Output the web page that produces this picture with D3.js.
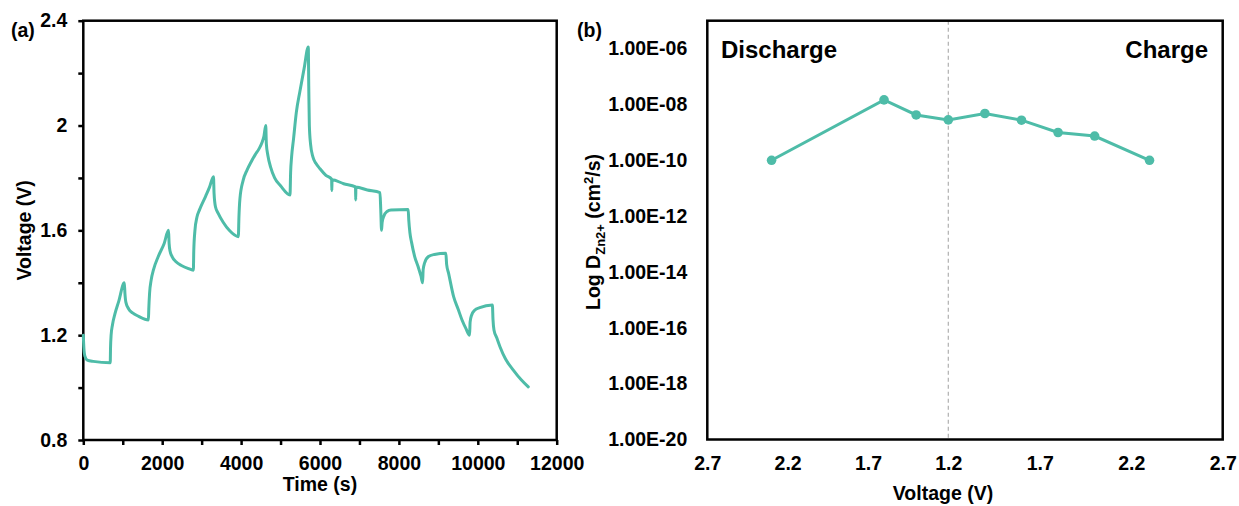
<!DOCTYPE html>
<html lang="en">
<head>
<meta charset="UTF-8">
<title>GITT and Zn2+ diffusion</title>
<script src="https://d3js.org/d3.v7.min.js"></script>
<style>
  body { margin: 0; background: #ffffff; }
  svg text { font-family: "Liberation Sans", Arial, sans-serif; font-weight: bold; fill: #000; }
  .tick text { font-size: 19.5px; }
  .axis-title { font-size: 19.5px; }
</style>
</head>
<body>
<div id="chart"></div>
<script>
// (a) GITT curve
const timeS = [0, 15, 40, 100, 250, 683, 690, 705, 740, 800, 900, 1040,
  1055, 1080, 1150, 1250, 1400, 1650,
  1660, 1680, 1720, 1780, 1900, 2050, 2160,
  2175, 2200, 2250, 2350, 2500, 2650, 2790,
  2800, 2830, 2880, 2950, 3100, 3200, 3300,
  3315, 3350, 3420, 3550, 3700, 3930,
  3945, 3970, 4050, 4150, 4250, 4355, 4450, 4530, 4580, 4625,
  4640, 4680, 4750, 4850, 5000, 5240,
  5255, 5280, 5330, 5400, 5490, 5600, 5703,
  5715, 5730, 5760, 5820, 5900, 6000, 6150, 6295, 6300, 6305,
  6600, 6900, 6905, 6910, 7200, 7520,
  7540, 7560, 7575, 7620, 7700, 7800, 8235,
  8250, 8280, 8320, 8400, 8490, 8560, 8600,
  8615, 8650, 8750, 8900, 9190,
  9210, 9260, 9387, 9500, 9600, 9700, 9792,
  9805, 9840, 9920, 10050, 10370,
  10385, 10410, 10480, 10562, 10700, 10900, 11100, 11280];
const voltageV = [1.20, 1.15, 1.12, 1.105, 1.10, 1.095, 1.15, 1.20, 1.24, 1.28, 1.33, 1.40,
  1.36, 1.325, 1.30, 1.285, 1.272, 1.258,
  1.30, 1.36, 1.41, 1.45, 1.50, 1.55, 1.60,
  1.55, 1.52, 1.50, 1.48, 1.465, 1.455, 1.448,
  1.52, 1.60, 1.65, 1.68, 1.73, 1.765, 1.805,
  1.74, 1.69, 1.665, 1.63, 1.60, 1.576,
  1.65, 1.72, 1.79, 1.83, 1.86, 1.888, 1.91, 1.935, 1.96, 2.00,
  1.93, 1.885, 1.84, 1.80, 1.77, 1.735,
  1.82, 1.88, 1.95, 2.05, 2.13, 2.22, 2.30,
  2.15, 2.00, 1.93, 1.88, 1.855, 1.835, 1.81, 1.795, 1.752, 1.793,
  1.778, 1.766, 1.716, 1.765, 1.754, 1.744,
  1.68, 1.60, 1.63, 1.655, 1.672, 1.678, 1.68,
  1.64, 1.59, 1.555, 1.50, 1.46, 1.425, 1.40,
  1.45, 1.475, 1.50, 1.508, 1.513,
  1.47, 1.436, 1.347, 1.30, 1.258, 1.225, 1.20,
  1.25, 1.275, 1.295, 1.305, 1.315,
  1.26, 1.22, 1.19, 1.156, 1.11, 1.067, 1.03, 1.003];
const timeTicks = [0, 1000, 2000, 3000, 4000, 5000, 6000, 7000, 8000, 9000, 10000, 11000, 12000];
const voltTicks = [0.8, 1.0, 1.2, 1.4, 1.6, 1.8, 2.0, 2.2, 2.4];

// (b) diffusion coefficient vs voltage (side: -1 discharge, +1 charge)
const dVoltage = [2.3, 1.6, 1.4, 1.2, 1.4, 1.6, 1.8, 2.0, 2.3];
const dSide = [-1, -1, -1, 0, 1, 1, 1, 1, 1];
const dCoef = [1.0e-10, 1.46e-8, 4.2e-9, 2.8e-9, 4.75e-9, 2.73e-9, 9.9e-10, 7.4e-10, 1.0e-10];
const vAxisPos = [-1.5, -1.0, -0.5, 0, 0.5, 1.0, 1.5];
const vAxisLabels = ["2.7", "2.2", "1.7", "1.2", "1.7", "2.2", "2.7"];
const logTicks = [1e-6, 1e-8, 1e-10, 1e-12, 1e-14, 1e-16, 1e-18, 1e-20];

const teal = "#4ebca8";

const svg = d3.select("#chart").append("svg")
  .attr("width", 1239).attr("height", 506);

// ---------- panel (a) ----------
const A = { left: 83.3, top: 20.7, right: 556.7, bottom: 440 };
const xA = d3.scaleLinear().domain([0, 12000]).range([A.left, A.right]);
const yA = d3.scaleLinear().domain([0.8, 2.4]).range([A.bottom, A.top]);

const gA = svg.append("g");

gA.append("g")
  .attr("transform", `translate(0,${A.bottom})`)
  .call(d3.axisBottom(xA).tickValues(timeTicks).tickSize(5).tickPadding(11)
    .tickFormat(d => d % 2000 === 0 ? d : ""))
  .call(g => g.select(".domain").remove())
  .call(g => g.selectAll(".tick line").attr("stroke-width", 2.5));

gA.append("g")
  .attr("transform", `translate(${A.left},0)`)
  .call(d3.axisLeft(yA).tickValues(voltTicks).tickSize(5).tickPadding(11)
    .tickFormat(d => Math.round(d * 10) % 4 === 0 ? d3.format("")(+d.toFixed(1)) : ""))
  .call(g => g.select(".domain").remove())
  .call(g => g.selectAll(".tick line").attr("stroke-width", 2.5));

gA.append("rect")
  .attr("x", A.left).attr("y", A.top)
  .attr("width", A.right - A.left).attr("height", A.bottom - A.top)
  .attr("fill", "none").attr("stroke", "#000").attr("stroke-width", 2.5);

const gittLine = d3.line()
  .x((d, i) => xA(timeS[i]))
  .y(d => yA(d))
  .curve(d3.curveMonotoneX);

gA.append("path")
  .attr("d", gittLine(voltageV))
  .attr("fill", "none").attr("stroke", teal)
  .attr("stroke-width", 3).attr("stroke-linejoin", "round").attr("stroke-linecap", "round");

gA.append("text").attr("class", "axis-title")
  .attr("x", (A.left + A.right) / 2).attr("y", 491)
  .attr("text-anchor", "middle").text("Time (s)");

gA.append("text").attr("class", "axis-title")
  .attr("transform", `translate(31,${(A.top + A.bottom) / 2}) rotate(-90)`)
  .attr("text-anchor", "middle").text("Voltage (V)");

gA.append("text").attr("x", 11).attr("y", 37)
  .style("font-size", "19.5px").text("(a)");

// ---------- panel (b) ----------
const B = { left: 707.3, top: 20.7, right: 1222.7, bottom: 439.5 };
const xB = d3.scaleLinear().domain([-1.5, 0, 1.5]).range([B.left, 948.3, B.right]);
const yB = d3.scaleLog().domain([1e-20, 1e-5]).range([B.bottom, B.top]);

const gB = svg.append("g");

gB.append("g")
  .attr("transform", `translate(0,${B.bottom})`)
  .call(d3.axisBottom(xB).tickValues(vAxisPos).tickSize(0).tickPadding(17)
    .tickFormat((d, i) => vAxisLabels[i]))
  .call(g => g.select(".domain").remove());

gB.append("g")
  .attr("transform", `translate(${B.left},0)`)
  .call(d3.axisLeft(yB).tickValues(logTicks).tickSize(0).tickPadding(20)
    .tickFormat(d => {
      const e = Math.round(Math.log10(d));
      return "1.00E-" + String(-e).padStart(2, "0");
    }))
  .call(g => g.select(".domain").remove());

gB.append("line")
  .attr("x1", xB(0)).attr("x2", xB(0))
  .attr("y1", B.top).attr("y2", B.bottom)
  .attr("stroke", "#b0b0b0").attr("stroke-width", 1.2)
  .attr("stroke-dasharray", "4,3");

gB.append("rect")
  .attr("x", B.left).attr("y", B.top)
  .attr("width", B.right - B.left).attr("height", B.bottom - B.top)
  .attr("fill", "none").attr("stroke", "#000").attr("stroke-width", 2.5);

const pts = dVoltage.map((v, i) => ({ x: dSide[i] * (v - 1.2), y: dCoef[i] }));

gB.append("path")
  .attr("d", d3.line().x(d => xB(d.x)).y(d => yB(d.y))(pts))
  .attr("fill", "none").attr("stroke", teal).attr("stroke-width", 3);

gB.selectAll("circle.pt").data(pts).enter()
  .append("circle").attr("class", "pt")
  .attr("cx", d => xB(d.x)).attr("cy", d => yB(d.y))
  .attr("r", 4.8).attr("fill", teal);

gB.append("text").attr("x", 721).attr("y", 58)
  .style("font-size", "24px").text("Discharge");
gB.append("text").attr("x", 1208).attr("y", 58)
  .attr("text-anchor", "end")
  .style("font-size", "24px").text("Charge");

gB.append("text").attr("class", "axis-title")
  .attr("x", 943).attr("y", 500)
  .attr("text-anchor", "middle").text("Voltage (V)");

const yTitle = gB.append("text").attr("class", "axis-title")
  .attr("transform", `translate(600,232) rotate(-90)`)
  .attr("text-anchor", "middle");
yTitle.append("tspan").text("Log D");
yTitle.append("tspan").attr("dy", 5).style("font-size", "13px").text("Zn2+");
yTitle.append("tspan").attr("dy", -5).text(" (cm");
yTitle.append("tspan").attr("dy", -7).style("font-size", "13px").text("2");
yTitle.append("tspan").attr("dy", 7).text("/s)");

gB.append("text").attr("x", 577).attr("y", 37)
  .style("font-size", "19.5px").text("(b)");
</script>
</body>
</html>
